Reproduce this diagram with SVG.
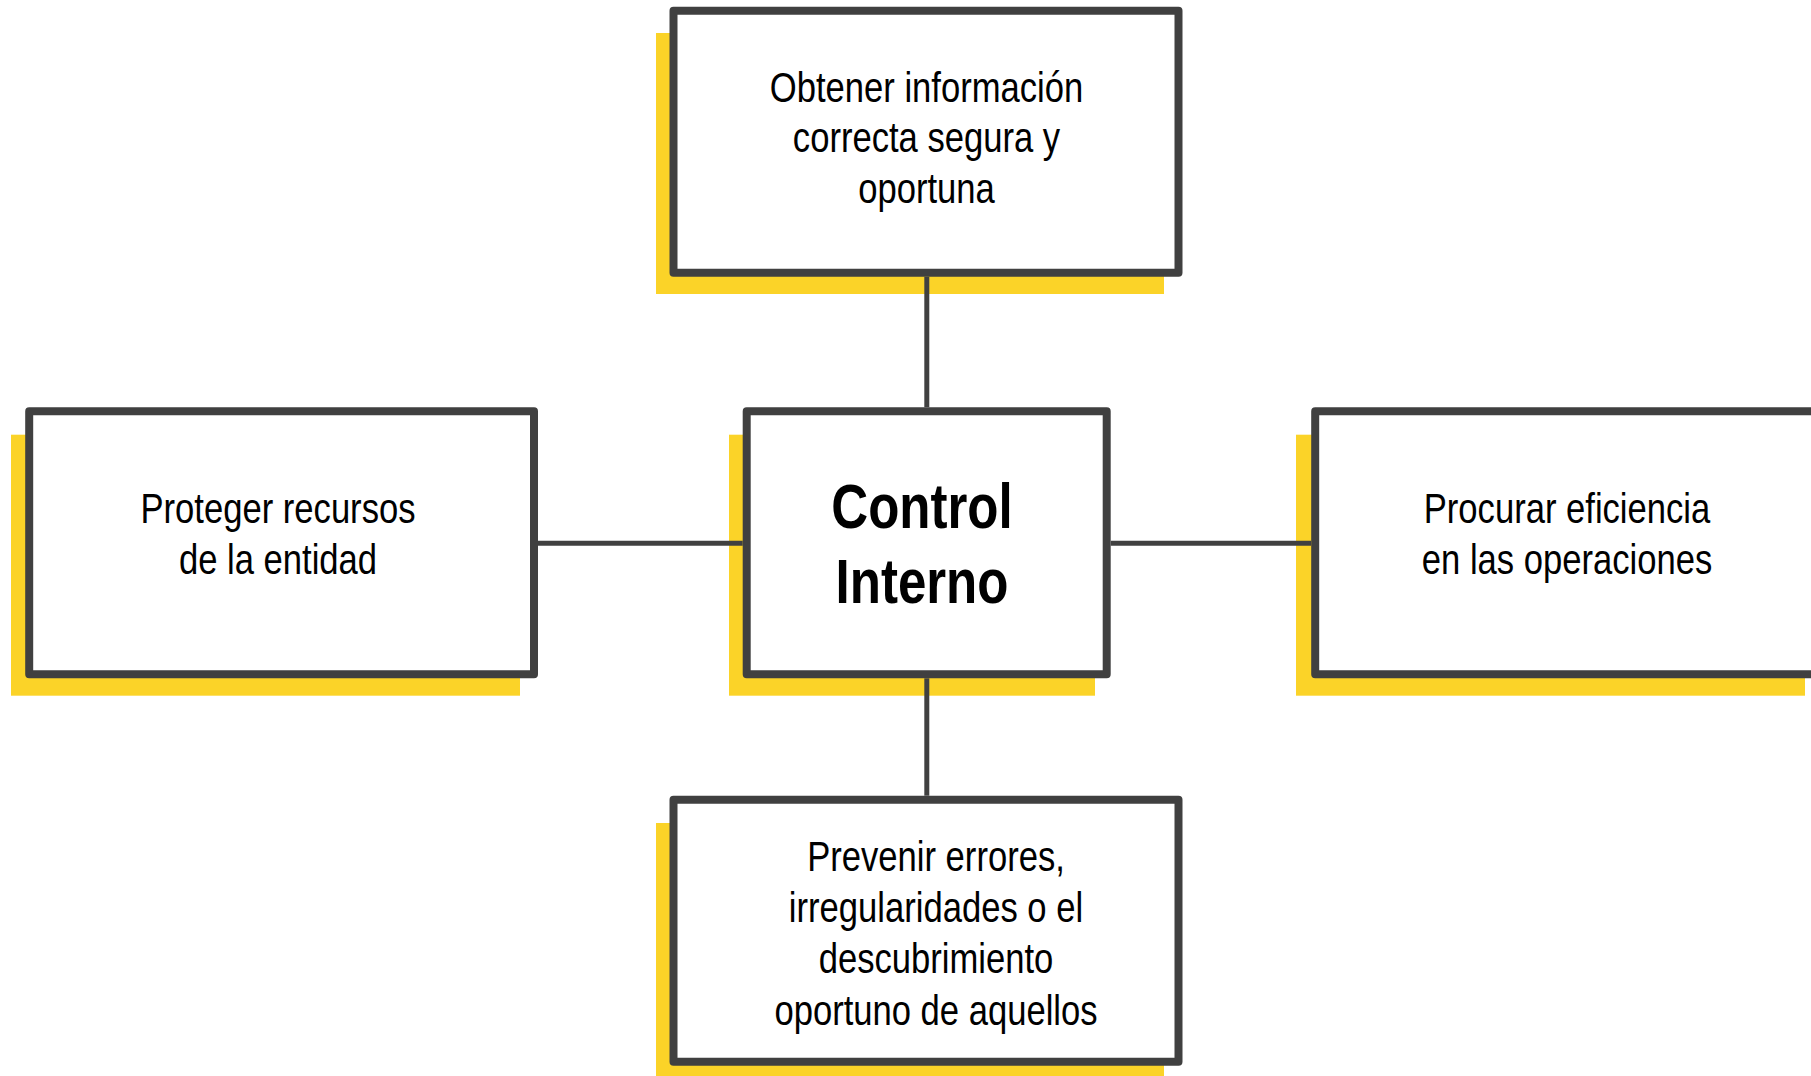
<svg xmlns="http://www.w3.org/2000/svg" width="1811" height="1076" viewBox="0 0 1811 1076">
<style>
.shadow{fill:#FBD328;}
.box{fill:#FFFFFF;stroke:#404040;stroke-width:8;stroke-linejoin:round;}
.lbl{font-family:"Liberation Sans",Arial,sans-serif;font-size:42px;fill:#000000;text-anchor:middle;}
.title{font-family:"Liberation Sans",Arial,sans-serif;font-size:63px;font-weight:bold;fill:#000000;text-anchor:middle;}
.conn{stroke:#404040;stroke-width:5;fill:none;}
</style>
<rect width="1811" height="1076" fill="#FFFFFF"/>
<g id="node-top">
<rect class="shadow" x="656" y="33" width="508" height="261"/>
<rect class="box" x="673.5" y="10.7" width="505" height="262"/>
<text class="lbl" transform="translate(926.5 0) scale(0.824 1)"><tspan x="0" y="102">Obtener información</tspan><tspan x="0" y="152.5">correcta segura y</tspan><tspan x="0" y="203">oportuna</tspan></text>
</g>
<g id="node-left">
<rect class="shadow" x="11" y="434.7" width="509" height="261"/>
<rect class="box" x="29.2" y="411.3" width="504.8" height="263"/>
<text class="lbl" transform="translate(278 0) scale(0.824 1)"><tspan x="0" y="523.3">Proteger recursos</tspan><tspan x="0" y="574.3">de la entidad</tspan></text>
</g>
<g id="node-center">
<rect class="shadow" x="729" y="434.7" width="366" height="261"/>
<rect class="box" x="746.7" y="411.3" width="360" height="263"/>
<text class="title" transform="translate(922 0) scale(0.81 1)"><tspan x="0" y="527.7">Control</tspan><tspan x="0" y="603.3">Interno</tspan></text>
</g>
<g id="node-right">
<rect class="shadow" x="1296" y="434.7" width="509" height="261"/>
<rect class="box" x="1315.2" y="411.3" width="505" height="263"/>
<text class="lbl" transform="translate(1567 0) scale(0.824 1)"><tspan x="0" y="523.3">Procurar eficiencia</tspan><tspan x="0" y="574.3">en las operaciones</tspan></text>
</g>
<g id="node-bottom">
<rect class="shadow" x="656" y="823" width="508" height="261"/>
<rect class="box" x="673.5" y="799.7" width="505" height="262"/>
<text class="lbl" transform="translate(936 0) scale(0.824 1)"><tspan x="0" y="870.7">Prevenir errores,</tspan><tspan x="0" y="922.3">irregularidades o el</tspan><tspan x="0" y="973.3">descubrimiento</tspan><tspan x="0" y="1024.7">oportuno de aquellos</tspan></text>
</g>
<g id="connectors">
<line class="conn" x1="926.8" y1="276.7" x2="926.8" y2="407.3"/>
<line class="conn" x1="926.8" y1="678.3" x2="926.8" y2="795.7"/>
<line class="conn" x1="538" y1="543.2" x2="742.7" y2="543.2"/>
<line class="conn" x1="1110.7" y1="543.2" x2="1311.2" y2="543.2"/>
</g>
</svg>
